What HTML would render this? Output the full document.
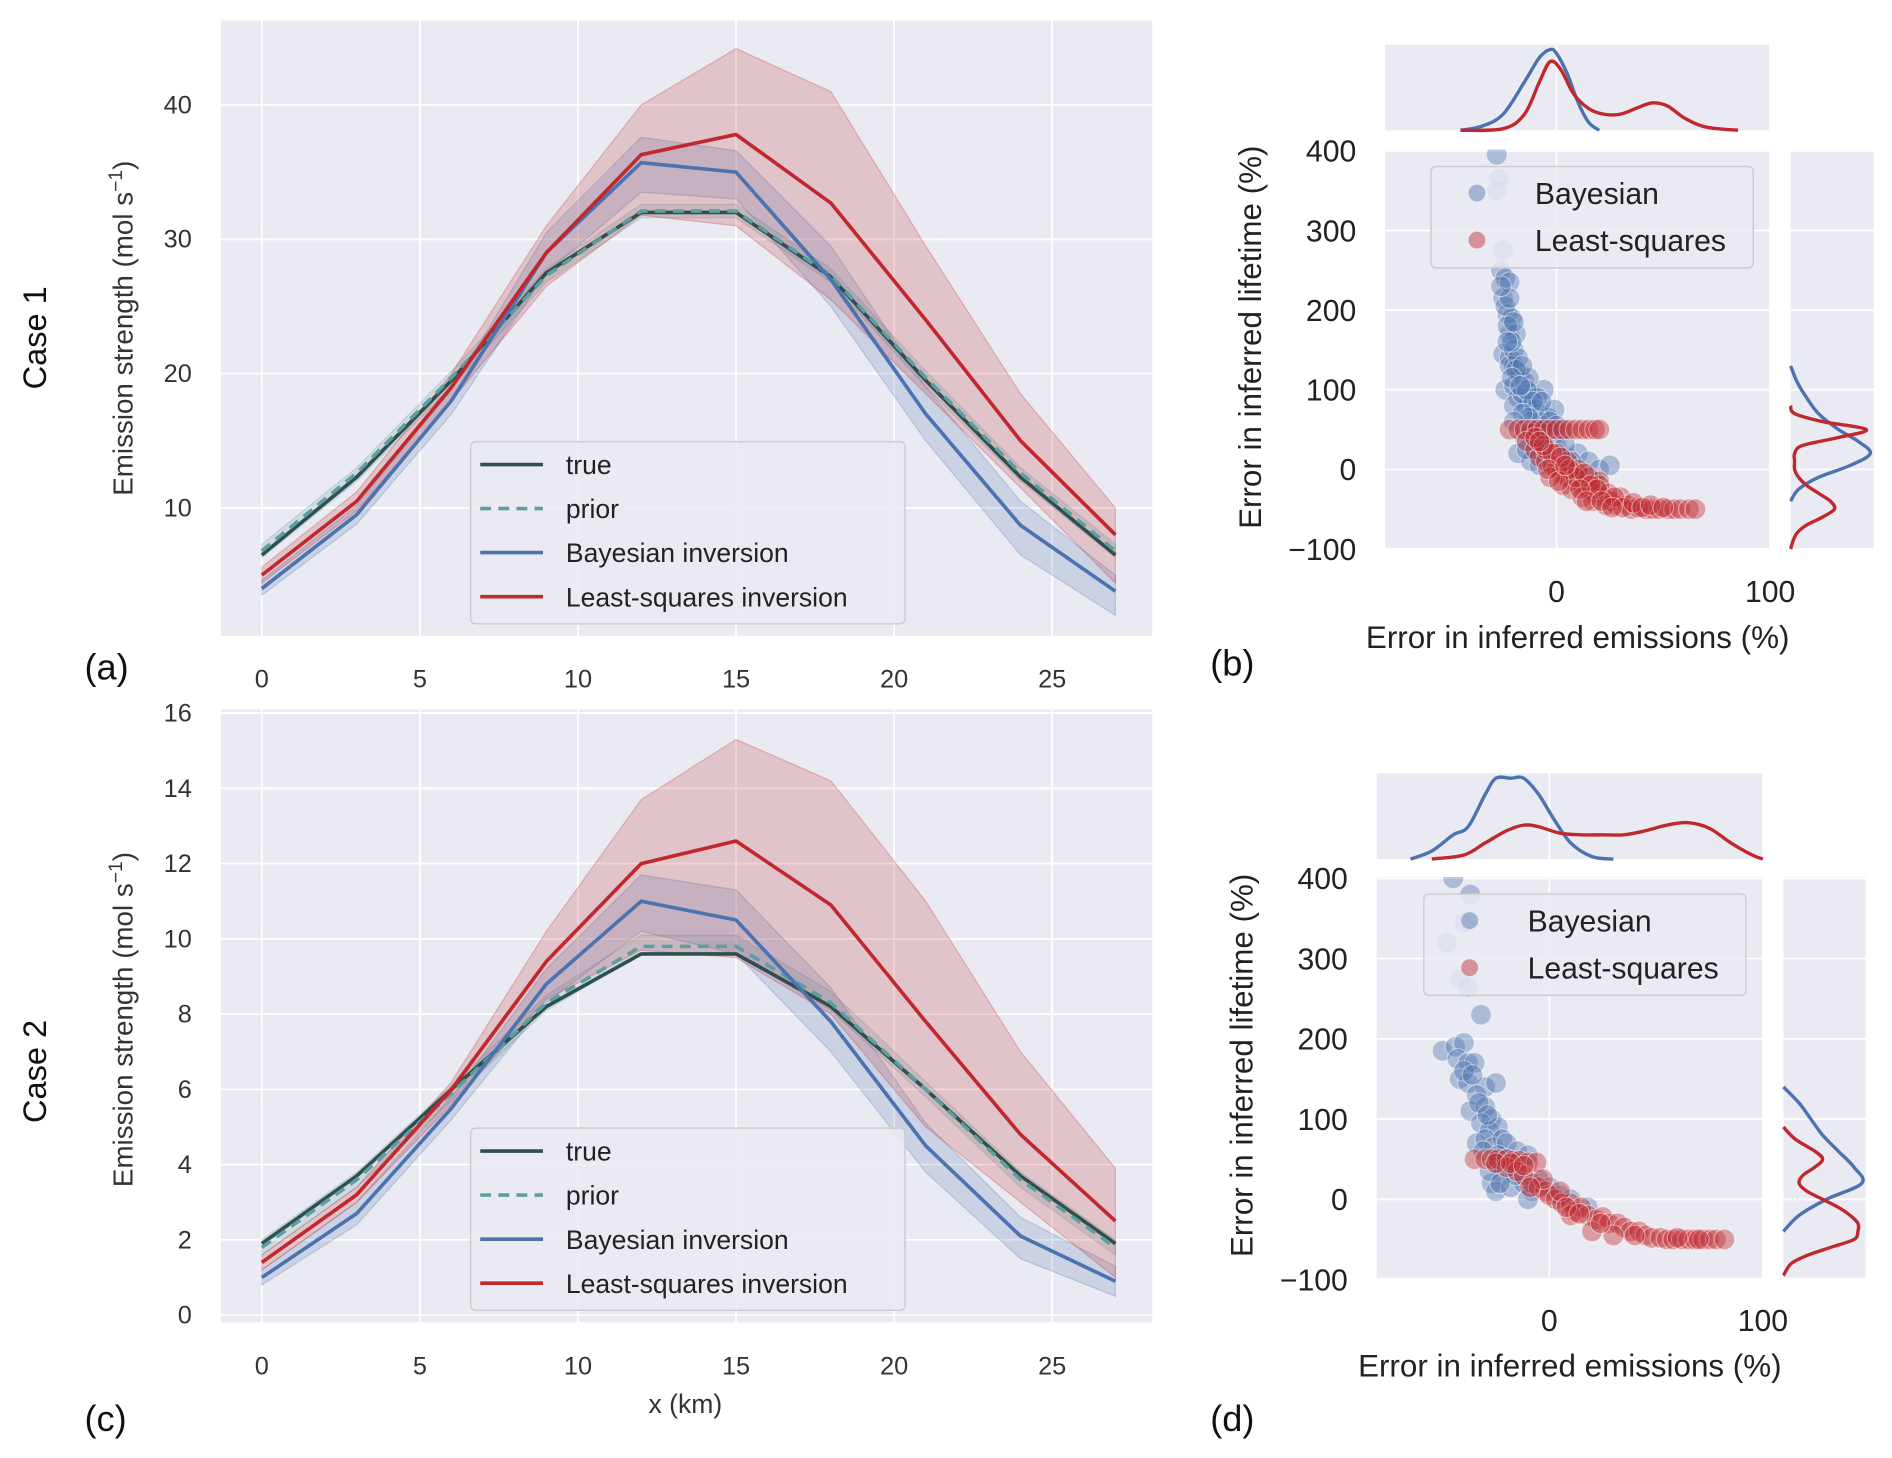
<!DOCTYPE html>
<html><head><meta charset="utf-8"><style>
html,body{margin:0;padding:0;background:#fff;}
svg{display:block;font-family:"Liberation Sans",Arial,sans-serif;}
</style></head><body>
<svg id="fig" width="1892" height="1458" viewBox="0 0 1568 1208.4" preserveAspectRatio="none" xmlns="http://www.w3.org/2000/svg"></svg>
<script>
// ---------- data: line panels ----------
const xKm = [0,3,6,9,12,15,18,21,24,27];
const c1True  = [6.5,12.3,19.5,27.5,32,32,27.2,19.5,12.3,6.5];
const c1Prior = [6.8,12.6,19.7,27.3,32.1,32.1,27.3,19.7,12.6,6.8];
const c1PriorLo=[6.3,12,19,26.8,31.6,31.6,26.8,19,12,6.3];
const c1PriorHi=[7.3,13,20.2,27.8,32.6,32.6,27.8,20.2,13,7.3];
const c1Bayes = [4,9.5,18,29,35.7,35,27,17,8.7,3.8];
const c1BayesLo=[3.5,8.8,17,27.5,33.5,33,25,15,6.5,2];
const c1BayesHi=[4.6,10.2,18.8,30.5,37.6,36.6,29.5,19,10.5,5];
const c1LS    = [5,10.5,19,29,36.3,37.8,32.7,24,15,8];
const c1LSLo  = [4.4,9.8,18,26.5,31.8,31,25.5,18.5,11.5,4.4];
const c1LSHi  = [5.6,11.2,20,31,40,44.2,41,29.5,18.5,10];
const c2True  = [1.9,3.7,6,8.2,9.6,9.6,8.2,6,3.7,1.9];
const c2Prior = [1.8,3.6,5.9,8.3,9.8,9.8,8.3,6,3.6,1.8];
const c2PriorLo=[1.6,3.4,5.7,8.1,9.6,9.6,8.1,5.8,3.4,1.6];
const c2PriorHi=[2,3.8,6.1,8.5,10.1,10.1,8.6,6.2,3.8,2];
const c2Bayes = [1,2.7,5.5,8.8,11,10.5,7.8,4.5,2.1,0.9];
const c2BayesLo=[0.8,2.4,5.2,8.3,10.2,9.6,7,3.8,1.5,0.5];
const c2BayesHi=[1.2,3,5.8,9.2,11.7,11.3,8.7,5.1,2.6,1.3];
const c2LS    = [1.4,3.2,6,9.4,12,12.6,10.9,7.8,4.8,2.5];
const c2LSLo  = [1.2,3,5.6,8.4,9.7,9.5,8,5,3,1];
const c2LSHi  = [1.6,3.4,6.2,10.2,13.7,15.3,14.2,11,7,3.9];
const xTicks = [0,5,10,15,20,25];
const yTicks1 = [10,20,30,40];
const yTicks2 = [0,2,4,6,8,10,12,14,16];
const scTicksY = [-100,0,100,200,300,400];
const scTicksX = [0,100];
// ---------- data: scatter panels ----------
const bBayes = [[-28,395],[-27,365],[-28,350],[-25,275],[-26,250],[-24,240],[-22,235],[-25,215],[-23,195],[-21,190],[-22,170],[-19,170],[-25,145],[-22,140],[-20,130],[-17,120],[-24,100],[-20,105],[-15,110],[-12,95],[-18,90],[-14,80],[-10,75],[-8,70],[-6,100],[-20,80],[-16,95],[-12,60],[-5,55],[-2,40],[-15,40],[-18,20],[-10,25],[-5,20],[0,30],[5,15],[10,20],[15,10],[20,0],[25,5],[-12,10],[-8,5],[2,0],[8,-5],[12,-10],[18,-15],[-22,130],[-20,150],[-18,140],[-13,115],[-9,90],[-4,65],[-7,45],[3,50],[-1,75],[-23,180],[-21,160],[-24,205],[-22,215],[-20,185],[-19,125],[-16,130],[-14,100],[-11,85],[-7,85],[-3,60],[0,55],[-13,65],[-9,50],[-16,70],[-21,115],[-17,105],[-12,45],[-6,35],[4,30],[7,10],[-14,25],[-20,60],[-23,160],[-26,230]];
const bLS = [[-22,50],[-18,50],[-15,50],[-12,50],[-9,50],[-6,50],[-3,50],[0,50],[3,50],[6,50],[9,50],[12,50],[15,50],[18,50],[20,50],[-14,35],[-10,25],[-8,15],[-5,10],[-2,5],[0,0],[2,-5],[5,-10],[8,-15],[10,-5],[12,-20],[15,-25],[18,-30],[20,-15],[22,-35],[25,-40],[28,-45],[30,-35],[33,-45],[35,-50],[38,-48],[42,-50],[45,-50],[48,-50],[52,-50],[55,-50],[58,-50],[62,-50],[65,-50],[0,20],[5,10],[10,0],[15,-10],[20,-20],[-5,25],[3,-20],[7,-25],[12,-35],[17,-40],[24,-30],[-3,-10],[-10,40],[-6,30],[-2,20],[2,15],[6,0],[9,-10],[13,-5],[16,-20],[19,-25],[23,-45],[27,-35],[31,-48],[36,-42],[40,-48],[44,-45],[50,-48],[-8,35],[-4,0],[1,-15],[4,5],[11,-25],[14,-40],[21,-40],[26,-48]];
const dBayes = [[-45,400],[-37,380],[-40,345],[-48,320],[-42,275],[-38,265],[-32,230],[-50,185],[-44,190],[-40,195],[-43,175],[-38,170],[-35,170],[-42,150],[-38,145],[-30,140],[-34,130],[-25,145],[-37,110],[-30,115],[-27,100],[-32,95],[-28,85],[-24,90],[-34,70],[-30,75],[-26,65],[-22,75],[-20,70],[-15,60],[-10,55],[-25,45],[-18,40],[-22,30],[-27,20],[-25,10],[-18,15],[-12,20],[-8,10],[-5,25],[0,15],[5,5],[10,0],[-10,0],[18,-10],[-40,160],[-36,155],[-33,120],[-29,105],[-31,60],[-24,55],[-20,50],[-28,35],[-16,30],[-23,20]];
const dLS = [[-35,50],[-30,50],[-27,50],[-24,50],[-20,50],[-17,48],[-14,48],[-10,46],[-6,46],[-20,40],[-15,35],[-12,30],[-8,20],[-5,15],[-2,10],[0,5],[3,0],[6,-5],[10,-5],[12,-15],[15,-10],[18,-20],[22,-25],[25,-22],[28,-30],[32,-30],[35,-35],[38,-40],[42,-40],[45,-45],[48,-48],[52,-48],[55,-50],[58,-50],[62,-50],[65,-50],[68,-50],[72,-50],[75,-50],[78,-50],[82,-50],[10,-20],[20,-40],[30,-45],[-3,25],[5,10],[-25,45],[-18,45],[-12,42],[-9,15],[8,-10],[14,-18],[24,-30],[40,-45],[60,-48],[70,-50]];
// ---------- data: marginal densities ----------
const bTopBX=[-45,-35,-25,-15,-8,-3,0,5,10,15,20];
const bTopBV=[0,.05,.2,.6,.9,1,.95,.7,.35,.1,0];
const bTopRX=[-45,-25,-15,-8,-3,2,8,15,22,30,38,45,52,60,70,85];
const bTopRV=[0,.02,.2,.6,.85,.75,.45,.27,.2,.2,.28,.34,.3,.15,.04,0];
const bRightBY=[130,110,90,70,50,35,20,5,-10,-25,-40];
const bRightBV=[0,.08,.2,.35,.6,.85,1,.75,.35,.1,0];
const bRightRY=[80,70,60,50,40,30,20,10,0,-10,-20,-30,-40,-50,-60,-70,-80,-90,-100];
const bRightRV=[0,.05,.4,.95,.6,.15,.05,.05,.05,.1,.2,.35,.5,.55,.4,.2,.08,.03,0];
const dTopBX=[-65,-55,-45,-38,-30,-25,-18,-12,-5,2,10,20,30];
const dTopBV=[0,.1,.3,.4,.8,1,1,1,.8,.5,.2,.03,0];
const dTopRX=[-55,-40,-30,-20,-12,-5,5,15,25,35,45,55,65,75,85,95,100];
const dTopRV=[0,.05,.2,.35,.42,.4,.32,.3,.3,.3,.35,.42,.45,.38,.2,.05,0];
const dRightBY=[140,120,100,80,60,40,20,0,-20,-40];
const dRightBV=[0,.2,.35,.5,.7,.9,1,.55,.2,0];
const dRightRY=[90,75,60,50,40,30,20,10,0,-10,-20,-30,-40,-50,-60,-70,-80,-95];
const dRightRV=[0,.15,.4,.5,.4,.25,.2,.3,.5,.7,.85,.95,.95,.9,.6,.3,.1,0];

const NS="http://www.w3.org/2000/svg";
const svg=document.getElementById('fig');
function el(tag,attrs,parent){const e=document.createElementNS(NS,tag);for(const k in attrs)e.setAttribute(k,attrs[k]);(parent||svg).appendChild(e);return e;}
function txt(s,attrs,parent){const e=el('text',attrs,parent);e.textContent=s;return e;}
function smooth(P){let d='M'+P[0][0]+','+P[0][1];
  for(let i=0;i<P.length-1;i++){const p0=P[i-1]||P[i],p1=P[i],p2=P[i+1],p3=P[i+2]||p2;
    d+='C'+(p1[0]+(p2[0]-p0[0])/6)+','+(p1[1]+(p2[1]-p0[1])/6)+' '+(p2[0]-(p3[0]-p1[0])/6)+','+(p2[1]-(p3[1]-p1[1])/6)+' '+p2[0]+','+p2[1];}
  return d;}
const BG='#EAEAF2',CT='#2F4F4F',CP='#5F9EA0',CB='#4C72B0',CR='#C0282D';

function linePanel(name,box,yticks,data,legY){
  const g=el('g',{});
  
  
  const sx=v=>box.x0+(v-0)*(box.x5-box.x0)/5;
  const sy=v=>box.ya+(v-box.va)*(box.yb-box.ya)/(box.vb-box.va);
  const bg=el('rect',{x:box.l,y:box.t,width:box.r-box.l,height:box.b-box.t,fill:BG},g);
  
  xTicks.forEach(t=>{
    el('line',{x1:sx(t),x2:sx(t),y1:box.t,y2:box.b,stroke:'#fff','stroke-width':1.5},g);
    const tl=txt(String(t),{x:sx(t),y:box.tickY,'font-size':21,fill:'#333','text-anchor':'middle'},g);
    
  });
  yticks.forEach(t=>{
    el('line',{x1:box.l,x2:box.r,y1:sy(t),y2:sy(t),stroke:'#fff','stroke-width':1.5},g);
    const tl=txt(String(t),{x:box.l-24,y:sy(t)+7,'font-size':21,fill:'#333','text-anchor':'end'},g);
    
  });
  const band=(lo,hi,c,op,n)=>{let d='M'+xKm.map((x,i)=>sx(x)+','+sy(hi[i])).join('L');
    for(let i=xKm.length-1;i>=0;i--)d+='L'+sx(xKm[i])+','+sy(lo[i]);
    const p=el('path',{d:d+'Z',fill:c,'fill-opacity':op,stroke:c,'stroke-opacity':op*1.3,'stroke-width':1},g);
    };
  const line=(v,c,dash,n)=>{const p=el('polyline',{points:xKm.map((x,i)=>sx(x)+','+sy(v[i])).join(' '),fill:'none',stroke:c,'stroke-width':3,'stroke-dasharray':dash||'none','stroke-linejoin':'round'},g);
    };
  band(data.pLo,data.pHi,CP,0.2,'prior-band');
  band(data.bLo,data.bHi,CB,0.2,'bayesian-band');
  band(data.rLo,data.rHi,CR,0.2,'least-squares-band');
  line(data.t,CT,null,'true-line');
  line(data.p,CP,'9,6','prior-line');
  line(data.b,CB,null,'bayesian-line');
  line(data.r,CR,null,'least-squares-line');
  const lg=el('g',{},g);
  
  el('rect',{x:390,y:legY,width:360,height:151,rx:4,fill:'#EAEAF2','fill-opacity':0.85,stroke:'#ccc','stroke-width':1.2},lg);
  [['true',CT,null],['prior',CP,'9,6'],['Bayesian inversion',CB,null],['Least-squares inversion',CR,null]].forEach((e,i)=>{
    const yy=legY+19+i*36.5;
    el('line',{x1:398,x2:450,y1:yy,y2:yy,stroke:e[1],'stroke-width':3,'stroke-dasharray':e[2]||'none'},lg);
    const t=txt(e[0],{x:469,y:yy+8,'font-size':22,fill:'#222'},lg);
    
  });
}
linePanel('panel-a',{l:183,r:955,t:17,b:527,x0:217,x5:348,ya:421,va:10,yb:87,vb:40,tickY:570},yTicks1,
  {t:c1True,p:c1Prior,pLo:c1PriorLo,pHi:c1PriorHi,b:c1Bayes,bLo:c1BayesLo,bHi:c1BayesHi,r:c1LS,rLo:c1LSLo,rHi:c1LSHi},366);
linePanel('panel-c',{l:183,r:955,t:588,b:1096,x0:217,x5:348,ya:1090,va:0,yb:591,vb:16,tickY:1139},yTicks2,
  {t:c2True,p:c2Prior,pLo:c2PriorLo,pHi:c2PriorHi,b:c2Bayes,bLo:c2BayesLo,bHi:c2BayesHi,r:c2LS,rLo:c2LSLo,rHi:c2LSHi},935);

function scatterPanel(name,B,bay,ls,top,right){
  const g=el('g',{});
  
  
  const sx=v=>B.x0+v*(B.x100-B.x0)/100;
  const sy=v=>B.y0+v*(B.y400-B.y0)/400;
  el('rect',{x:B.l,y:B.t,width:B.r-B.l,height:B.b-B.t,fill:BG},g);
  el('rect',{x:B.l,y:B.tt,width:B.r-B.l,height:B.tb-B.tt,fill:BG},g);
  el('rect',{x:B.rl,y:B.t,width:B.rr-B.rl,height:B.b-B.t,fill:BG},g);
  scTicksY.forEach(t=>{
    el('line',{x1:B.l,x2:B.r,y1:sy(t),y2:sy(t),stroke:'#fff','stroke-width':1.5},g);
    el('line',{x1:B.rl,x2:B.rr,y1:sy(t),y2:sy(t),stroke:'#fff','stroke-width':1.5},g);
    const tl=txt(t<0?'\u2212'+(-t):String(t),{x:B.l-24,y:sy(t)+9,'font-size':25,fill:'#222','text-anchor':'end'},g);
    
  });
  scTicksX.forEach(t=>{
    el('line',{x1:sx(t),x2:sx(t),y1:B.t,y2:B.b,stroke:'#fff','stroke-width':1.5},g);
    el('line',{x1:sx(t),x2:sx(t),y1:B.tt,y2:B.tb,stroke:'#fff','stroke-width':1.5},g);
    const tl=txt(String(t),{x:sx(t),y:B.b+44,'font-size':25,fill:'#222','text-anchor':'middle'},g);
    
  });
  const clip='clip-'+name;
  const cp=el('clipPath',{id:clip},g);el('rect',{x:B.l,y:B.t,width:B.r-B.l,height:B.b-B.t},cp);
  const pts=el('g',{'clip-path':'url(#'+clip+')'},g);
  bay.forEach(p=>{const c=el('circle',{cx:sx(p[0]),cy:sy(p[1]),r:8.5,fill:CB,'fill-opacity':0.4,stroke:'#fff','stroke-opacity':0.5,'stroke-width':0.8},pts);
    });
  ls.forEach(p=>{const c=el('circle',{cx:sx(p[0]),cy:sy(p[1]),r:8.5,fill:CR,'fill-opacity':0.4,stroke:'#fff','stroke-opacity':0.5,'stroke-width':0.8},pts);
    });
  const H=B.tb-B.tt-4, W=B.rr-B.rl-3;
  [[top.bx,top.bv,CB],[top.rx,top.rv,CR]].forEach((s,k)=>{
    const p=el('path',{d:smooth(s[0].map((x,i)=>[sx(x),B.tb-s[1][i]*H])),fill:'none',stroke:s[2],'stroke-width':2.8,'stroke-linejoin':'round'},g);
    });
  [[right.by,right.bv,CB],[right.ry,right.rv,CR]].forEach((s,k)=>{
    const p=el('path',{d:smooth(s[0].map((y,i)=>[B.rl+s[1][i]*W,sy(y)])),fill:'none',stroke:s[2],'stroke-width':2.8,'stroke-linejoin':'round'},g);
    });
  const lg=el('g',{},g);
  
  el('rect',{x:B.lx,y:B.ly,width:267,height:84,rx:4,fill:'#EAEAF2','fill-opacity':0.85,stroke:'#ccc','stroke-width':1.2},lg);
  [['Bayesian',CB],['Least-squares',CR]].forEach((e,i)=>{
    const yy=B.ly+22+i*39;
    el('circle',{cx:B.lx+38,cy:yy,r:7,fill:e[1],'fill-opacity':0.45},lg);
    const t=txt(e[0],{x:B.lx+86,y:yy+9,'font-size':25,fill:'#222'},lg);
    
  });
  const xl=txt('Error in inferred emissions (%)',{x:(B.l+B.r)/2,y:B.b+82,'font-size':26,fill:'#222','text-anchor':'middle'},g);
  
  const yl=txt('Error in inferred lifetime (%)',{x:0,y:0,'font-size':26,fill:'#222','text-anchor':'middle',transform:'translate('+(B.l-103)+','+((B.t+B.b)/2-10)+') rotate(-90)'},g);
  
}
scatterPanel('panel-b',{l:1148,r:1467,t:124,b:455,tt:37,tb:108,rl:1484,rr:1553,x0:1290,x100:1467,y0:389,y400:125,lx:1186,ly:138},
  bBayes,bLS,{bx:bTopBX,bv:bTopBV,rx:bTopRX,rv:bTopRV},{by:bRightBY,bv:bRightBV,ry:bRightRY,rv:bRightRV});
scatterPanel('panel-d',{l:1141,r:1461,t:727,b:1059,tt:641,tb:712,rl:1478,rr:1546,x0:1284,x100:1461,y0:994,y400:728,lx:1180,ly:741},
  dBayes,dLS,{bx:dTopBX,bv:dTopBV,rx:dTopRX,rv:dTopRV},{by:dRightBY,bv:dRightBV,ry:dRightRY,rv:dRightRV});

[['Case 1',280,'case-1-label'],['Case 2',888,'case-2-label']].forEach(c=>{
  const t=txt(c[0],{x:0,y:0,'font-size':27,fill:'#111','text-anchor':'middle',transform:'translate(38,'+c[1]+') rotate(-90)'});
  
});
[[272,'y-axis-title-a'],[845,'y-axis-title-c']].forEach(c=>{
  const t=txt('',{x:0,y:0,'font-size':23,fill:'#333','text-anchor':'middle',transform:'translate(110,'+c[0]+') rotate(-90)'});
  t.innerHTML='Emission strength (mol s<tspan dy="-9" font-size="16">\u22121</tspan><tspan dy="9">)</tspan>';
  
});
const xk=txt('x (km)',{x:568,y:1171,'font-size':22,fill:'#333','text-anchor':'middle'});

[['(a)',70,563],['(b)',1003,560],['(c)',70,1186],['(d)',1003,1186]].forEach(c=>{
  const t=txt(c[0],{x:c[1],y:c[2],'font-size':30,fill:'#111'});
  
});
</script>
</body></html>
